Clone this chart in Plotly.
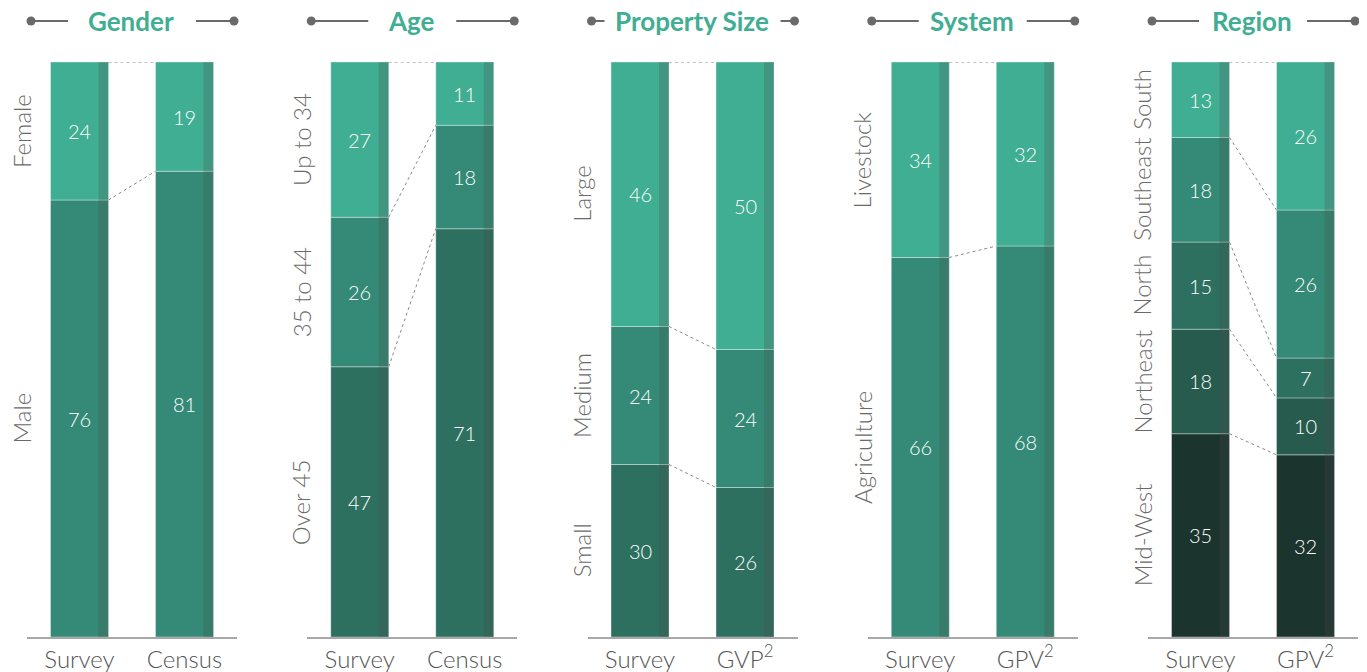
import plotly.graph_objects as go

# ---------------- data ----------------
bar_positions = [0, 1]

gender_title = "Gender"
gender_cats = ["Survey", "Census"]
gender_segments = ["Male", "Female"]            # bottom -> top
gender_values = [[76, 81], [24, 19]]

age_title = "Age"
age_cats = ["Survey", "Census"]
age_segments = ["Over 45", "35 to 44", "Up to 34"]
age_values = [[47, 71], [26, 18], [27, 11]]

size_title = "Property Size"
size_cats = ["Survey", "GVP<sup>2</sup>"]
size_segments = ["Small", "Medium", "Large"]
size_values = [[30, 26], [24, 24], [46, 50]]

system_title = "System"
system_cats = ["Survey", "GPV<sup>2</sup>"]
system_segments = ["Agriculture", "Livestock"]
system_values = [[66, 68], [34, 32]]

region_title = "Region"
region_cats = ["Survey", "GPV<sup>2</sup>"]
region_segments = ["Mid-West", "Northeast", "North", "Southeast", "South"]
region_values = [[35, 32], [18, 10], [15, 7], [18, 26], [13, 26]]

panels = [
    (gender_title, gender_cats, gender_segments, gender_values),
    (age_title, age_cats, age_segments, age_values),
    (size_title, size_cats, size_segments, size_values),
    (system_title, system_cats, system_segments, system_values),
    (region_title, region_cats, region_segments, region_values),
]

# ---------------- style ----------------
palette_from_top = ["#40AE92", "#348A76", "#2D705F", "#275B4E", "#1B342D"]
FONT = "Lato"
PAGE_OFF = 8                      # browser body margin
W, H = 1367 - PAGE_OFF, 672 - PAGE_OFF
ML, MR, MT, MB = 27 - PAGE_OFF, 9, 62 - PAGE_OFF, 35
PW = W - ML - MR
PH = H - MT - MB
PANEL_STEP = 280.25
PANEL_W = 210.0
BW = 0.552          # bar width (data units)
SW = 0.095          # darker side strip width
title_line_gap = [64, 44, 88, 54, 54]

fig = go.Figure()
annotations = []
shapes = []
layout_axes = {}

for i, (title, cats, segs, vals) in enumerate(panels):
    sfx = "" if i == 0 else str(i + 1)
    xa, ya = "x" + sfx, "y" + sfx
    d0 = PANEL_STEP * i / PW
    d1 = (PANEL_STEP * i + PANEL_W) / PW

    totals = [sum(col) for col in zip(*vals)]
    bases = [0.0, 0.0]
    nseg = len(segs)
    for k, (seg, v) in enumerate(zip(segs, vals)):
        color = palette_from_top[nseg - 1 - k]
        shares = [a / t * 100 for a, t in zip(v, totals)]
        fig.add_trace(go.Bar(
            x=bar_positions, y=shares, base=list(bases), width=BW, offset=-BW / 2,
            marker=dict(color=color, line=dict(color="rgba(255,255,255,0.35)", width=1)),
            xaxis=xa, yaxis=ya, showlegend=False, hoverinfo="skip",
        ))
        for j in range(2):
            annotations.append(dict(
                x=bar_positions[j], y=bases[j] + shares[j] / 2, xref=xa, yref=ya,
                text=str(v[j]), showarrow=False,
                font=dict(family=FONT, size=20, color="white", weight=300),
            ))
        annotations.append(dict(
            x=-0.5, y=bases[0] + shares[0] / 2, xref=xa, yref=ya, xanchor="center",
            xshift=-6, text=seg, textangle=-90, showarrow=False,
            font=dict(family=FONT, size=24, color="#6a6a6a", weight=300),
        ))
        bases = [b + s for b, s in zip(bases, shares)]
        fig.add_trace(go.Scatter(
            x=[bar_positions[0] + BW / 2, bar_positions[1] - BW / 2], y=bases,
            mode="lines", line=dict(color="#8a8a8a", width=1, dash="dot"),
            xaxis=xa, yaxis=ya, showlegend=False, hoverinfo="skip",
        ))
    # darker right-side strip
    fig.add_trace(go.Bar(
        x=bar_positions, y=bases, base=[0, 0], width=SW, offset=BW / 2 - SW,
        marker=dict(color="rgba(75,75,75,0.24)", line=dict(width=0)),
        xaxis=xa, yaxis=ya, showlegend=False, hoverinfo="skip",
    ))

    layout_axes["xaxis" + sfx] = dict(
        domain=[d0, d1], range=[-0.5, 1.5], anchor=ya, showline=True,
        linecolor="#a8a8a8", linewidth=1.5, tickvals=bar_positions, ticktext=cats,
        tickfont=dict(family=FONT, size=24, color="#555555", weight=300),
        showgrid=False, zeroline=False, ticks="", ticklabelstandoff=0,
        automargin=False, fixedrange=True,
    )
    layout_axes["yaxis" + sfx] = dict(
        domain=[0, 1], range=[0, 100], anchor=xa, visible=False,
        automargin=False, fixedrange=True,
    )

    # title with decorative lines (pixel positions relative to plot area)
    cpx = PANEL_STEP * i + PANEL_W / 2
    ty = 1 + (62 - 21) / PH
    annotations.append(dict(
        x=(cpx - 1) / PW, y=ty, xref="paper", yref="paper",
        xanchor="center", yanchor="middle",
        text="<b>" + title + "</b>", showarrow=False,
        font=dict(family=FONT, size=26, color="#40AE92"),
    ))
    left_dot = PANEL_STEP * i + 4
    right_dot = PANEL_STEP * i + PANEL_W - 3
    g = title_line_gap[i]
    for (a, b) in [(left_dot, cpx - g), (cpx + g, right_dot)]:
        shapes.append(dict(type="line", xref="paper", yref="paper",
                           x0=a / PW, x1=b / PW, y0=ty, y1=ty,
                           line=dict(color="#6a6a6a", width=2)))
    for dx in [left_dot, right_dot]:
        shapes.append(dict(type="circle", xref="paper", yref="paper",
                           xsizemode="pixel", ysizemode="pixel",
                           xanchor=dx / PW, yanchor=ty,
                           x0=-4.5, x1=4.5, y0=-4.5, y1=4.5,
                           fillcolor="#6a6a6a", line=dict(width=0)))

fig.update_layout(
    width=W, height=H, barmode="overlay",
    margin=dict(l=ML, r=MR, t=MT, b=MB, autoexpand=False),
    paper_bgcolor="white", plot_bgcolor="white",
    annotations=annotations, shapes=shapes, showlegend=False,
    **layout_axes,
)

fig.write_html("out.html")
